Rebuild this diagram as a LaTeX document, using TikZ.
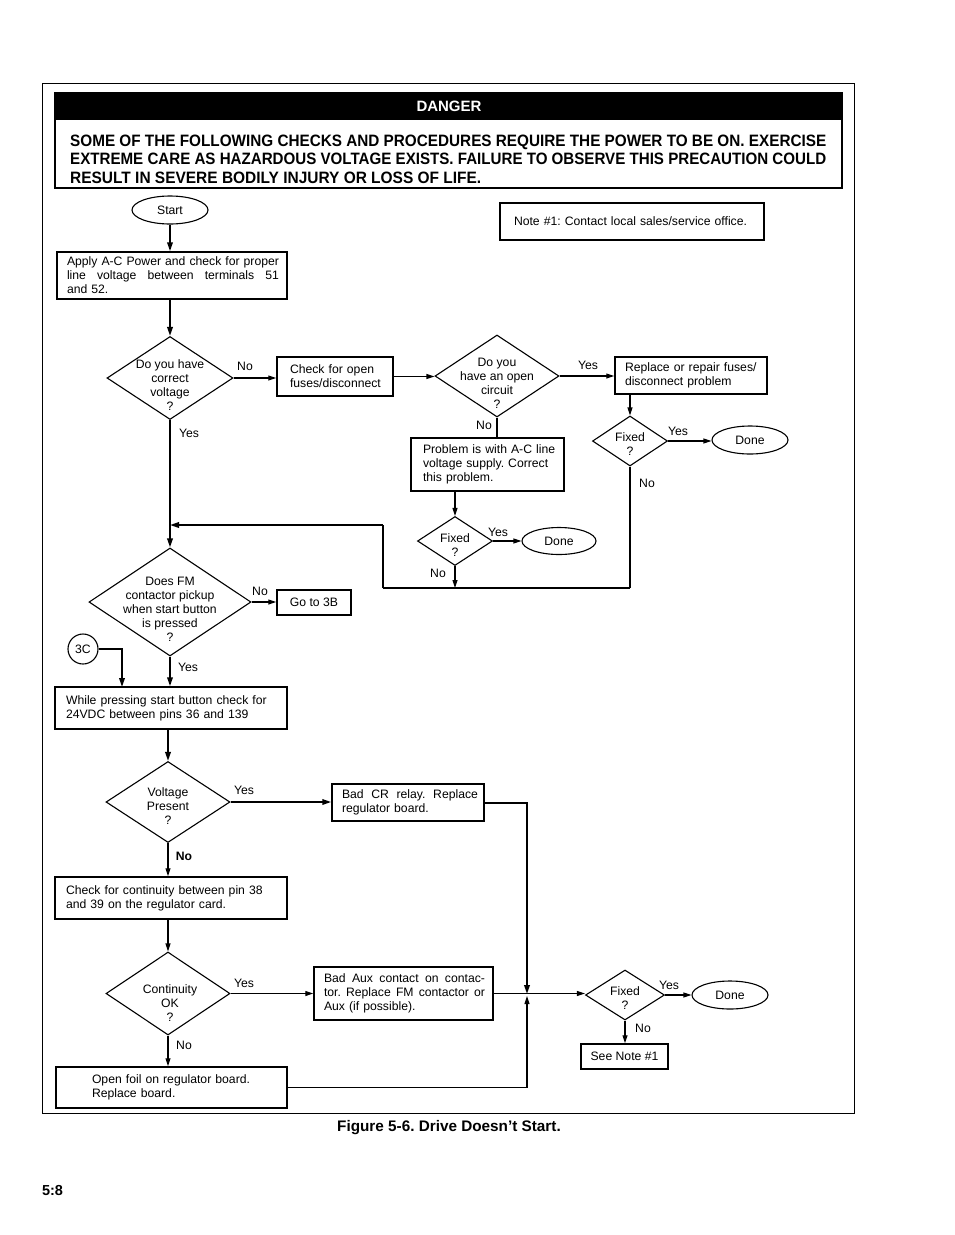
\documentclass[tikz,border=0pt]{standalone}
\usepackage{fontspec}
\setmainfont{Liberation Sans}
\usetikzlibrary{shapes.geometric,arrows.meta}
\newcommand\jline[2]{\makebox[#1][s]{\spaceskip=0pt\xspaceskip=0pt #2}}
\frenchspacing
\begin{document}
\begin{tikzpicture}[x=1pt,y=-1pt,
  every node/.style={font=\fontsize{12.2}{14}\selectfont\frenchspacing},
  box/.style={draw,line width=1.5pt,inner ysep=0pt,align=left},
  cbox/.style={draw,line width=1.5pt,inner sep=0pt,align=center},
  dia/.style={draw,diamond,inner sep=0pt,line width=1.1pt},
  dtext/.style={inner sep=0pt,align=center},
  term/.style={draw,ellipse,inner sep=0pt,line width=1.1pt},
  lab/.style={inner sep=0pt},
  thn/.style={line width=1.1pt,-{Triangle[length=8pt,width=5pt]}},
  thk/.style={line width=1.8pt,-{Triangle[length=9pt,width=5.5pt]}},
  ln/.style={line width=1.1pt},
  lnk/.style={line width=1.8pt}]
\useasboundingbox (0,0) rectangle (954,1235);
\fill[white] (0,0) rectangle (954,1235);
% outer frame
\draw[line width=1pt] (42,83) rectangle (854,1113);
% danger box
\fill[black] (55,93) rectangle (842,120);
\draw[line width=1.5pt] (55,93) rectangle (842,188);
\node[text=white,font=\fontsize{15}{15}\bfseries\selectfont,inner sep=0pt] (dg) at (449,106.5) {DANGER};
\node[anchor=base west,inner sep=0pt,font=\bfseries] (w1) at (70,146) {\resizebox{756pt}{11.5pt}{SOME OF THE FOLLOWING CHECKS AND PROCEDURES REQUIRE THE POWER TO BE ON. EXERCISE}};
\node[anchor=base west,inner sep=0pt,font=\bfseries] (w2) at (70,164.5) {\resizebox{756pt}{11.5pt}{EXTREME CARE AS HAZARDOUS VOLTAGE EXISTS. FAILURE TO OBSERVE THIS PRECAUTION COULD}};
\node[anchor=base west,inner sep=0pt,font=\bfseries] (w3) at (70,183) {\resizebox{411pt}{11.5pt}{RESULT IN SEVERE BODILY INJURY OR LOSS OF LIFE.}};

% nodes
\node[term,minimum width=76pt,minimum height=28pt] (start) at (170,210) {Start};
\node[box,minimum width=264pt,minimum height=37pt,text width=236pt,inner xsep=14pt] (note) at (632,221.5) {\mbox{Note \#1: Contact local sales/service office.}};
\node[box,minimum width=230pt,minimum height=47pt,text width=210pt,inner xsep=10pt] (apply) at (172,275.5)
  {\jline{212pt}{Apply A-C Power and check for proper}\\\jline{212pt}{line voltage between terminals 51}\\and 52.};
\node[dia,minimum width=126pt,minimum height=83pt] (d1) at (170,378) {};
\node[dtext] (d1t) at (170,385) {Do you have\\correct\\voltage\\?};
\node[box,minimum width=116pt,minimum height=39pt,text width=90pt,inner xsep=13pt] (chk) at (335,376.5) {\mbox{Check for open}\\\mbox{fuses/disconnect}};
\node[dia,minimum width=124pt,minimum height=82pt] (d2) at (497,376) {};
\node[dtext] (d2t) at (497,383) {Do you\\have an open\\circuit\\?};
\node[box,minimum width=152pt,minimum height=37pt,text width=132pt,inner xsep=10pt] (repl) at (691,375.5) {\mbox{Replace or repair fuses/}\\\mbox{disconnect problem}};
\node[dia,minimum width=75pt,minimum height=50pt] (fx1) at (630,441) {};
\node[dtext] (fx1t) at (630,444) {Fixed\\?};
\node[term,minimum width=76pt,minimum height=28pt] (done1) at (750,440) {Done};
\node[box,minimum width=153pt,minimum height=53pt,text width=129pt,inner xsep=12pt] (prob) at (487.5,464.5) {\mbox{Problem is with A-C line}\\\mbox{voltage supply. Correct}\\\mbox{this problem.}};
\node[dia,minimum width=75pt,minimum height=49pt] (fx2) at (455,541) {};
\node[dtext] (fx2t) at (455,545) {Fixed\\?};
\node[term,minimum width=74pt,minimum height=27pt] (done2) at (559,541) {Done};
\node[dia,minimum width=162pt,minimum height=108pt] (d3) at (170,602) {};
\node[dtext] (d3t) at (170,609.5) {Does FM\\contactor pickup\\when start button\\is pressed\\?};
\node[cbox,minimum width=74pt,minimum height=25pt] (go3b) at (314,602.5) {Go to 3B};
\node[draw,circle,minimum size=30pt,inner sep=0pt,line width=1.1pt] (c3) at (83,649) {3C};
\node[box,minimum width=232pt,minimum height=42pt,text width=210pt,inner xsep=11pt] (while) at (171,708) {\mbox{While pressing start button check for}\\\mbox{24VDC between pins 36 and 139}};
\node[dia,minimum width=124pt,minimum height=81pt] (d4) at (168,802) {};
\node[dtext] (d4t) at (168,806) {Voltage\\Present\\?};
\node[box,minimum width=152pt,minimum height=37pt,text width=132pt,inner xsep=10pt] (badcr) at (408,802.5) {\jline{136pt}{Bad CR relay. Replace}\\\mbox{regulator board.}};
\node[box,minimum width=232pt,minimum height=42pt,text width=210pt,inner xsep=11pt] (chkc) at (171,898) {\mbox{Check for continuity between pin 38}\\\mbox{and 39 on the regulator card.}};
\node[dia,minimum width=124pt,minimum height=83pt] (d5) at (168,993.5) {};
\node[dtext] (d5t) at (170,1003) {Continuity\\OK\\?};
\node[box,minimum width=179pt,minimum height=53pt,text width=159pt,inner xsep=10pt] (badaux) at (403.5,993.5) {\jline{161pt}{Bad Aux contact on contac-}\\\jline{161pt}{tor. Replace FM contactor or}\\\mbox{Aux (if possible).}};
\node[dia,minimum width=79pt,minimum height=50pt] (fx3) at (625,995) {};
\node[dtext] (fx3t) at (625,998) {Fixed\\?};
\node[term,minimum width=76pt,minimum height=28pt] (done3) at (730,995) {Done};
\node[cbox,minimum width=87pt,minimum height=25pt] (seen) at (624.5,1056.5) {See Note \#1};
\node[box,minimum width=231pt,minimum height=41pt,text width=159pt,inner xsep=36pt] (foil) at (171.5,1087.5) {\mbox{Open foil on regulator board.}\\\mbox{Replace board.}};

% labels
\node[lab] (l1) at (245,366) {No};
\node[lab] (l2) at (189,433) {Yes};
\node[lab] (l3) at (588,365) {Yes};
\node[lab] (l4) at (484,425) {No};
\node[lab] (l5) at (678,431) {Yes};
\node[lab] (l6) at (647,483) {No};
\node[lab] (l7) at (498,532) {Yes};
\node[lab] (l8) at (438,573) {No};
\node[lab] (l9) at (260,591) {No};
\node[lab] (l10) at (188,667) {Yes};
\node[lab] (l11) at (244,790) {Yes};
\node[lab,font=\fontsize{12.2}{14}\bfseries\selectfont] (l12) at (184,856) {No};
\node[lab] (l13) at (244,983) {Yes};
\node[lab] (l14) at (184,1045) {No};
\node[lab] (l15) at (669,985) {Yes};
\node[lab] (l16) at (643,1028) {No};

% coordinates
\coordinate (lb) at (383,588);
\coordinate (lt) at (383,525);
\coordinate (m1) at (170,525);
\coordinate (c3k) at (122,687);
\coordinate (j) at (527,995);

% connectors
\draw[thk] (start.south) -- (start.south |- apply.north);
\draw[thk] (d1.north |- apply.south) -- (d1.north);
\draw[thn] (d1.east) -- (d1.east -| chk.west);
\draw[thn] (chk.east) -- (chk.east -| d2.west);
\draw[thn] (d2.east) -- (d2.east -| repl.west);
\draw[thn] (fx1.north |- repl.south) -- (fx1.north);
\draw[thn] (fx1.east) -- (fx1.east -| done1.west);
\draw[ln] (fx1.south) -- (fx1.south |- lb);
\draw[lnk] (fx1.south |- lb) -- (lb);
\draw[ln] (lb) -- (lt);
\draw[thk] (lt) -- (m1);
\draw[ln] (d2.south) -- (d2.south |- prob.north);
\draw[thn] (fx2.north |- prob.south) -- (fx2.north);
\draw[thn] (fx2.east) -- (fx2.east -| done2.west);
\draw[thn] (fx2.south) -- (fx2.south |- lb);
\draw[thk] (d1.south) -- (d3.north);
\draw[thn] (d3.east) -- (d3.east -| go3b.west);
\draw[thk] (d3.south) -- (d3.south |- while.north);
\draw[thk] (c3.east) -| (c3k);
\draw[thk] (d4.north |- while.south) -- (d4.north);
\draw[thk] (d4.east) -- (d4.east -| badcr.west);
\draw[thk,line width=2pt,shorten >=1pt] (badcr.east) -| (j);
\draw[thn] (d4.south) -- (d4.south |- chkc.north);
\draw[thn] (d4.north |- chkc.south) -- (d4.north |- d5.north);
\draw[thn] (d5.east) -- (d5.east -| badaux.west);
\draw[thn] (badaux.east) -- (badaux.east -| fx3.west);
\draw[thn] (d5.south) -- (d5.south |- foil.north);
\draw[thn,shorten >=1pt] (foil.east) -| (j);
\draw[thn] (fx3.east) -- (fx3.east -| done3.west);
\draw[thn] (fx3.south) -- (fx3.south |- seen.north);

% caption
\node[font=\fontsize{15.3}{15}\bfseries\selectfont,inner sep=0pt] (cap) at (449,1127.5) {Figure 5-6. Drive Doesn’t Start.};
\node[font=\fontsize{14.5}{15}\bfseries\selectfont,inner sep=0pt] (pg) at (52.5,1190) {5:8};
\end{tikzpicture}
\end{document}
